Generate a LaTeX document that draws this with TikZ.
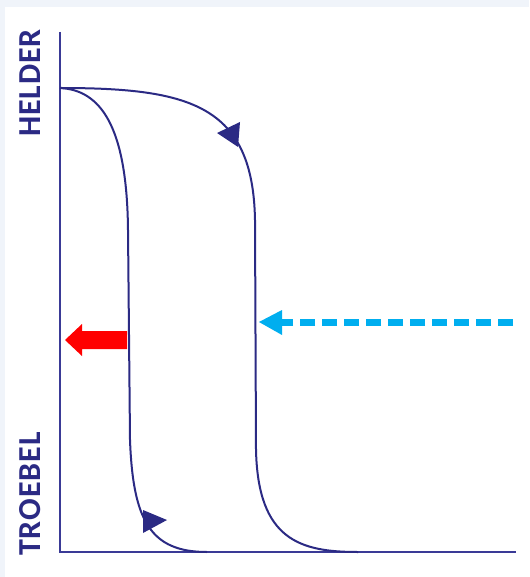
\documentclass[tikz,border=0pt]{standalone}
\usepackage{fontspec}
\newfontfamily\axisfont{Carlito}[LetterSpace=3]
\usepackage{tikz}
\usetikzlibrary{arrows.meta, positioning, calc}
\usepackage{xcolor}
\definecolor{NV}{RGB}{43,42,132}
\definecolor{AX}{RGB}{58,58,150}
\definecolor{CY}{RGB}{0,174,239}
\definecolor{RD}{RGB}{255,0,0}
\definecolor{BG}{RGB}{240,244,250}

\begin{document}
\begin{tikzpicture}[x=1pt, y=-1pt,
  axis/.style={draw=AX, line width=2pt},
  curve/.style={draw=NV, line width=2pt},
  tipmark/.style={fill=NV},
  axislabel/.style={font=\axisfont\bfseries\fontsize{32}{32}\selectfont,
                    text=NV, rotate=90, inner sep=0pt}
]
\useasboundingbox (0,0) rectangle (529,577);
\fill[BG] (0,0) rectangle (529,577);
\fill[white] (5,7) rectangle (529,577);

% axes
\coordinate (O) at (60,552);
\coordinate (ytop) at (60,32);
\coordinate (xend) at (516,552);
\draw[axis] (ytop) -- (O) -- (xend);

\node[axislabel] (helder)  at (30,83)  {HELDER};
\node[axislabel] (troebel) at (30,494) {TROEBEL};

% hysteresis loop
\coordinate (start) at (60,88);
\draw[curve] (start) .. controls (190,88) and (253,105) .. (255,220)
  -- (256,450) .. controls (258,540) and (300,552) .. (358,552);
\draw[curve] (start) .. controls (100,90) and (127,125) .. (128,230)
  -- (130,440) .. controls (133,520) and (150,552) .. (207,552);

\fill[tipmark] (217,133) -- (240,122) -- (238,147) -- cycle;
\fill[tipmark] (143,510) -- (167,520) -- (143,533) -- cycle;

% shifts
\fill[RD] (127,331) -- (82,331) -- (82,324) -- (65,340) -- (82,356)
  -- (82,349) -- (127,349) -- cycle;
\draw[CY, line width=7pt, dash pattern=on 15pt off 7pt] (513,322) -- (282,322);
\fill[CY] (259,322) -- (282,310) -- (282,335) -- cycle;
\end{tikzpicture}
\end{document}
